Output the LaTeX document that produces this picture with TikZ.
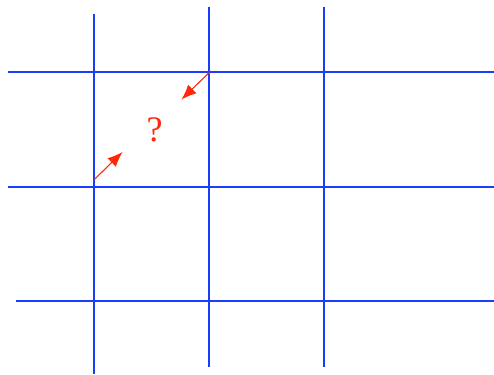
\documentclass[tikz,border=0pt]{standalone}
\usepackage{fontspec}
\usetikzlibrary{arrows.meta}
\newfontfamily\markfont{Liberation Serif}
\definecolor{gridblue}{RGB}{26,60,255}
\definecolor{arrowred}{RGB}{255,40,10}

\begin{document}
\begin{tikzpicture}[x=1pt,y=-1pt]
\tikzset{
  gridline/.style={gridblue,line width=1.3pt},
  pointer/.style={arrowred,line width=1.1pt,-{Latex[length=15pt,width=12pt]}},
  mark label/.style={text=arrowred,inner sep=0pt,font=\markfont\fontsize{36}{42}\selectfont}
}
\useasboundingbox (0,0) rectangle (494,374);
\draw[gridline] (8,72) -- (494,72);
\draw[gridline] (8,187) -- (494,187);
\draw[gridline] (16,301) -- (494,301);
\draw[gridline] (94,14) -- (94,374);
\draw[gridline] (209,7) -- (209,367);
\draw[gridline] (324,7) -- (324,367);
\coordinate (c_low) at (94.3,179.5);
\coordinate (c_low_tip) at (122.5,152);
\coordinate (c_high) at (209.3,72.5);
\coordinate (c_high_tip) at (181.5,99.5);
\node[mark label] (n_query) at (154.5,130) {?};
\draw[pointer] (c_low) -- (c_low_tip);
\draw[pointer] (c_high) -- (c_high_tip);
\end{tikzpicture}
\end{document}
